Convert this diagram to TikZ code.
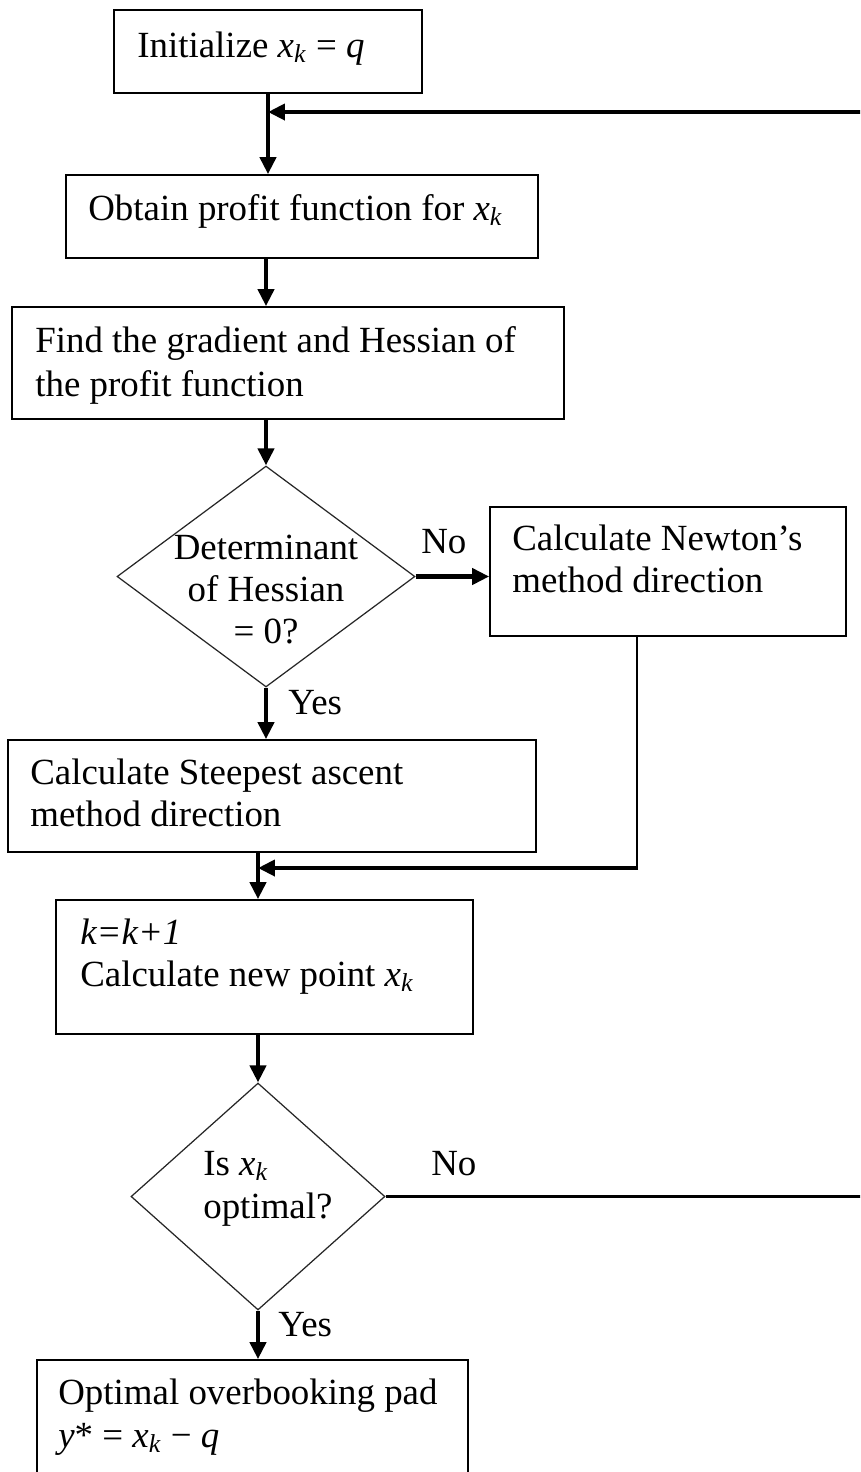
\documentclass[tikz,border=0pt]{standalone}
\usepackage{fontspec}
\setmainfont{Liberation Serif}
\usetikzlibrary{arrows.meta,shapes.geometric,calc}
\newcommand{\xk}{\textit{x}\textsubscript{\textit{k}}}
\begin{document}
\begin{tikzpicture}[x=0.02cm,y=-0.02cm,
 box/.style={draw, line width=1.0pt, rectangle, inner sep=0pt},
 dia/.style={draw=black!85, line width=0.7pt, diamond, inner sep=0pt},
 txt/.style={anchor=base west, inner sep=0pt, font=\fontsize{21}{24.5}\selectfont},
 ctxt/.style={anchor=base, inner sep=0pt, font=\fontsize{21}{24.5}\selectfont},
 arr/.style={line width=2.3pt, -{Triangle[length=0.34cm,width=0.32cm]}},
 ln/.style={line width=1.3pt},
 lnb/.style={line width=2.3pt}]
\useasboundingbox (0,0) rectangle (860,1472);
\clip (0,0) rectangle (860,1472);
\fill[white] (0,0) rectangle (860,1472);

% boxes
\node[box, minimum width=6.16cm, minimum height=1.66cm] (b1) at (268,51.5) {};
\node[box, minimum width=9.44cm, minimum height=1.66cm] (b2) at (302,216.5) {};
\node[box, minimum width=11.04cm, minimum height=2.24cm] (b3) at (288,363) {};
\node[dia, minimum width=5.96cm, minimum height=4.42cm] (d1) at (266,576.5) {};
\node[box, minimum width=7.12cm, minimum height=2.58cm] (b4) at (668,571.5) {};
\node[box, minimum width=10.56cm, minimum height=2.24cm] (b5) at (272,796) {};
\node[box, minimum width=8.34cm, minimum height=2.68cm] (b6) at (264.5,967) {};
\node[dia, minimum width=5.08cm, minimum height=4.54cm] (d2) at (258,1196.5) {};
\node[box, minimum width=8.62cm, minimum height=2.8cm] (b7) at (252.5,1430) {};

% texts
\node[txt] (t1) at (137,57) {Initialize \xk{} = \textit{q}};
\node[txt] (t2) at (88,220) {Obtain profit function for \xk};
\node[txt] (t3a) at (35,352) {Find the gradient and Hessian of};
\node[txt] (t3b) at (35,396) {the profit function};
\node[ctxt] (t4a) at (266,559) {Determinant};
\node[ctxt] (t4b) at (266,601) {of Hessian};
\node[ctxt] (t4c) at (266,643) {= 0?};
\node[txt] (t5a) at (512,550) {Calculate Newton's};
\node[txt] (t5b) at (512,592) {method direction};
\node[txt] (t6a) at (30,784) {Calculate Steepest ascent};
\node[txt] (t6b) at (30,826) {method direction};
\node[txt] (t7a) at (80,944) {\textit{k=k+1}};
\node[txt] (t7b) at (80,986) {Calculate new point \xk};
\node[txt] (t8a) at (203,1175) {Is \xk};
\node[txt] (t8b) at (203,1218) {optimal?};
\node[txt] (t9a) at (58,1404) {Optimal overbooking pad};
\node[txt] (t9b) at (58,1447) {\textit{y}* = \xk{} − \textit{q}};

% labels
\node[txt] (lno1) at (421,553) {No};
\node[txt] (lyes1) at (288,714) {Yes};
\node[txt] (lno2) at (431,1175) {No};
\node[txt] (lyes2) at (278,1336) {Yes};

% coordinates
\coordinate (r1) at (862,112);
\coordinate (r2) at (862,1196.5);
\coordinate (n1) at (637,636);
\coordinate (j) at (258,868);

% connectors
\draw[arr] (b1.south) -- (b1.south |- b2.north);
\draw[arr] (r1) -- (b1.south |- r1);
\draw[arr] (b2.south -| d1.north) -- (b3.north -| d1.north);
\draw[arr] (b3.south -| d1.north) -- (d1.north);
\draw[arr] (d1.east) -- (b4.west |- d1.east);
\draw[arr] (d1.south) -- (d1.south |- b5.north);
\draw[ln] (n1) -- (n1 |- j);
\draw[arr] ([xshift=0.6pt]n1 |- j) -- (j);
\draw[arr] (b5.south -| d2.north) -- (b6.north -| d2.north);
\draw[arr] (b6.south -| d2.north) -- (d2.north);
\draw[ln] (d2.east) -- (r2);
\draw[arr] (d2.south) -- (d2.south |- b7.north);
\end{tikzpicture}
\end{document}
